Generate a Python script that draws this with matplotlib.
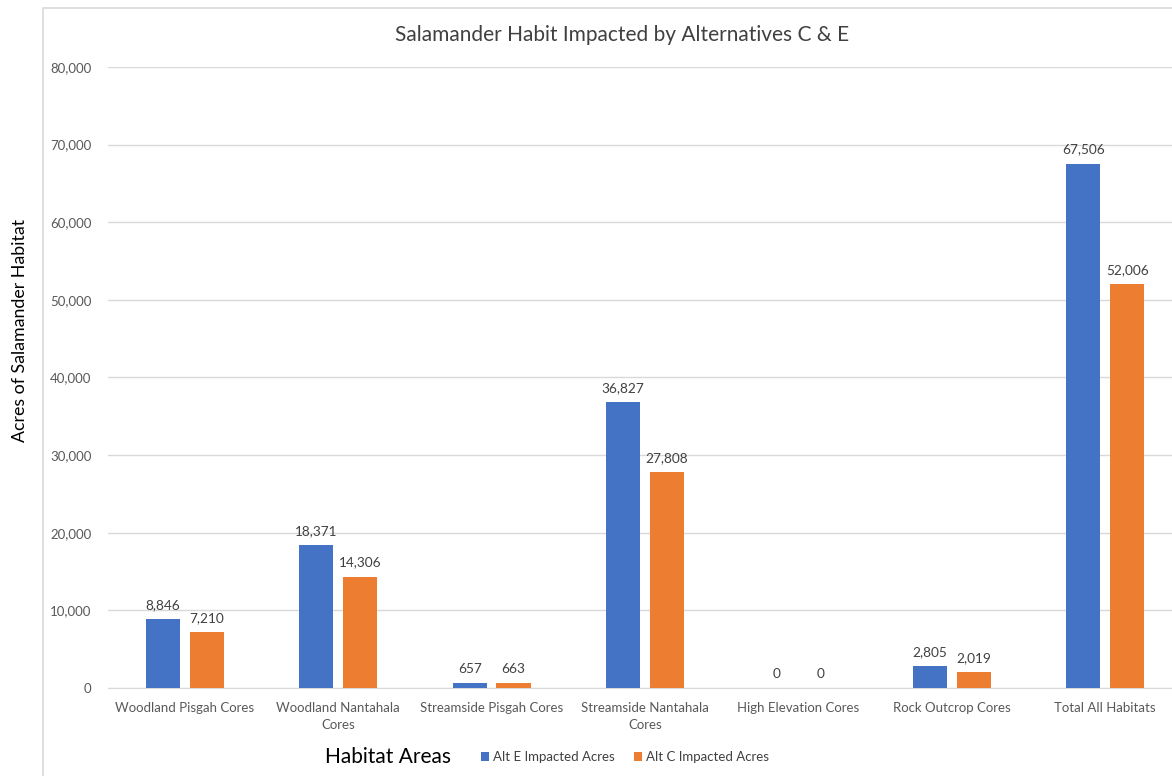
import matplotlib.pyplot as plt
from matplotlib.patches import Rectangle
import numpy as np

plt.rcParams['font.family'] = ['Lato', 'DejaVu Sans']

categories = ['Woodland Pisgah Cores', 'Woodland Nantahala\nCores',
              'Streamside Pisgah Cores', 'Streamside Nantahala\nCores',
              'High Elevation Cores', 'Rock Outcrop Cores', 'Total All Habitats']
alt_e = [8846, 18371, 657, 36827, 0, 2805, 67506]
alt_c = [7210, 14306, 663, 27808, 0, 2019, 52006]
yticks = [0, 10000, 20000, 30000, 40000, 50000, 60000, 70000, 80000]

BLUE = '#4472C4'
ORANGE = '#ED7D31'
W, H = 1172, 776

fig = plt.figure(figsize=(W / 100, H / 100), dpi=100)
# light chart-area border
fig.patches.append(Rectangle((43 / W, -0.1), 1.2, 1 - 8 / H + 0.1, transform=fig.transFigure,
                             facecolor='none', edgecolor='#d9d9d9', lw=1.2))

ax = fig.add_axes([108 / W, 88 / H, 1074 / W, 621 / H])
x = np.arange(len(categories))
bw = 0.222
off = 0.143
b1 = ax.bar(x - off, alt_e, bw, color=BLUE, label='Alt E Impacted Acres', zorder=3)
b2 = ax.bar(x + off, alt_c, bw, color=ORANGE, label='Alt C Impacted Acres', zorder=3)

for bars in (b1, b2):
    for b in bars:
        v = b.get_height()
        ax.annotate(f'{v:,.0f}', (b.get_x() + b.get_width() / 2, v), xytext=(0, 6),
                    textcoords='offset points', ha='center', va='bottom',
                    fontsize=9.8, color='#404040')

ax.set_xlim(-0.5, len(categories) - 0.5)
ax.set_ylim(0, 80000)
ax.set_yticks(yticks)
ax.set_yticklabels([f'{t:,}' for t in yticks])
ax.set_xticks(x)
ax.set_xticklabels(categories, linespacing=1.5)
ax.tick_params(axis='both', length=0, labelsize=9.5, labelcolor='#595959')
ax.tick_params(axis='y', pad=12)
ax.tick_params(axis='x', pad=10)
ax.grid(axis='y', color='#d9d9d9', lw=1, zorder=0)
for s in ['top', 'right', 'left']:
    ax.spines[s].set_visible(False)
ax.spines['bottom'].set_color('#d9d9d9')

fig.text(622 / W, 1 - 35 / H, 'Salamander Habit Impacted by Alternatives C & E',
         ha='center', va='center', fontsize=15, color='#404040')
fig.text(20 / W, 1 - 330 / H, 'Acres of Salamander Habitat', rotation=90,
         ha='center', va='center', fontsize=12.8, color='black')
fig.text(388 / W, 1 - 757 / H, 'Habitat Areas', ha='center', va='center',
         fontsize=15, color='black')
fig.legend(handles=[b1, b2], loc='center', bbox_to_anchor=(625 / W, 1 - 757 / H),
           ncol=2, frameon=False, fontsize=9.5, handlelength=0.6, handleheight=0.6,
           handletextpad=0.3, columnspacing=1.5, labelcolor='#404040')

fig.savefig('out.png', dpi=100)
